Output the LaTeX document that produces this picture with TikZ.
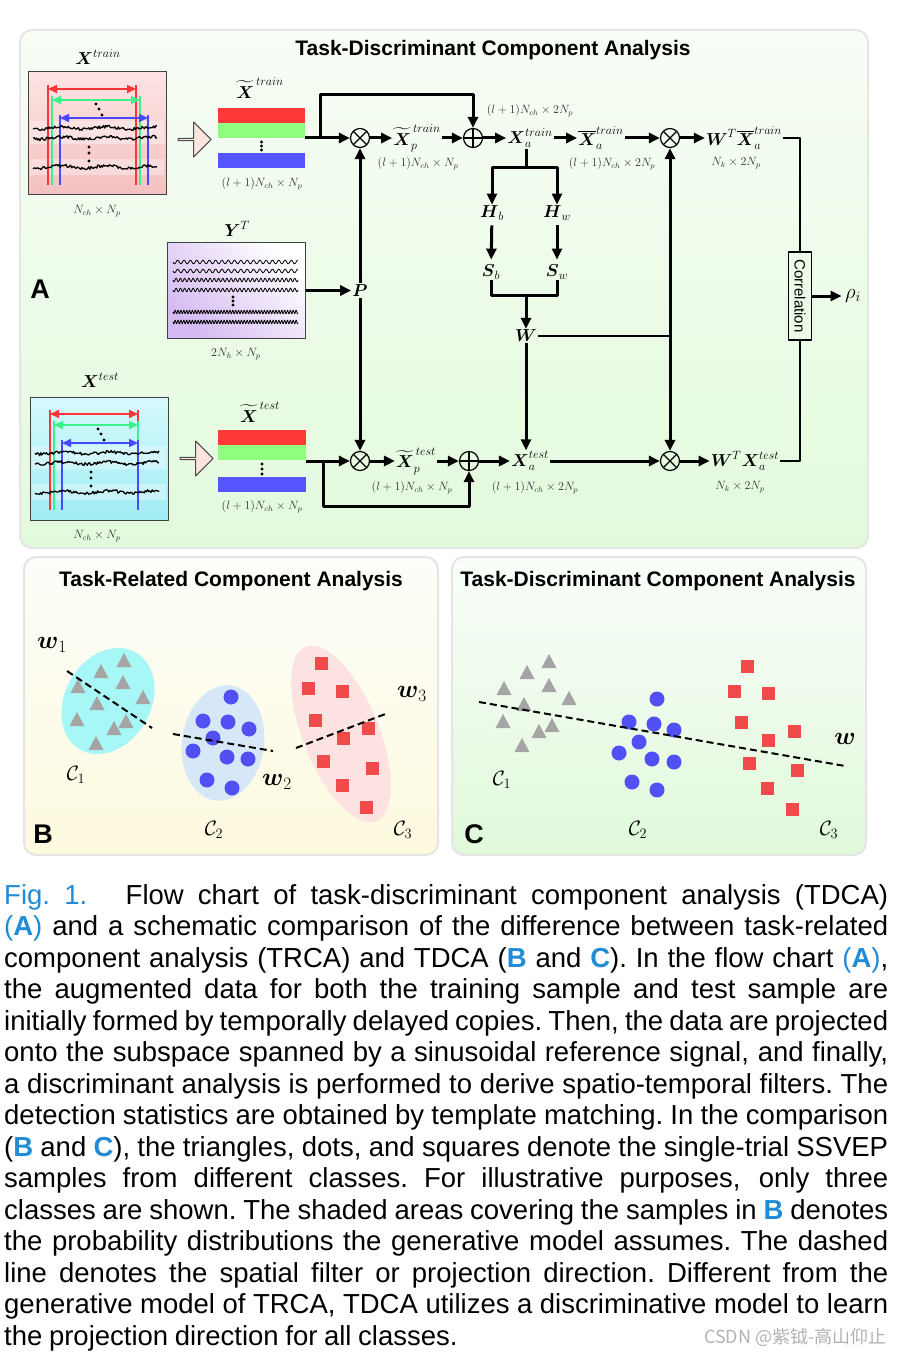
\documentclass[tikz,border=0pt]{standalone}
\usepackage{amsmath}
\usepackage{fontspec}
\newfontfamily\sansf{Liberation Sans}
\newfontfamily\cjkf{Noto Sans CJK SC}
\usetikzlibrary{arrows.meta,positioning,shapes.arrows}
\definecolor{figblue}{RGB}{32,140,215}
\definecolor{sigred}{RGB}{255,52,52}
\definecolor{siggreen}{RGB}{60,240,140}
\definecolor{sigblue}{RGB}{72,72,255}
\definecolor{barred}{RGB}{255,56,56}
\definecolor{bargreen}{RGB}{144,255,128}
\definecolor{barblue}{RGB}{85,85,255}
\definecolor{tri}{RGB}{165,165,165}
\definecolor{dotblue}{RGB}{80,80,245}
\definecolor{sqred}{RGB}{240,74,74}
\definecolor{arrpink}{RGB}{253,228,222}
\definecolor{aTop}{RGB}{248,253,246}
\definecolor{aBot}{RGB}{226,250,220}
\definecolor{bTop}{RGB}{253,253,250}
\definecolor{bBot}{RGB}{253,250,222}
\definecolor{cTop}{RGB}{250,254,250}
\definecolor{cBot}{RGB}{224,248,218}
\definecolor{trTop}{RGB}{253,228,228}
\definecolor{trBot}{RGB}{244,192,192}
\definecolor{teTop}{RGB}{214,250,253}
\definecolor{teBot}{RGB}{160,236,244}
\definecolor{ypurple}{RGB}{212,186,242}
\definecolor{cyanell}{RGB}{168,247,247}
\definecolor{blueell}{RGB}{214,232,248}
\definecolor{pinkell}{RGB}{253,226,226}
\newcommand\capfont{\sansf\fontsize{27.5}{31.5}\selectfont}
\newcommand\capspace{\spaceskip=.24em plus .6em minus .1em\xspaceskip=\spaceskip}
\newcommand\capline[1]{\leavevmode\hbox to 884pt{\capspace #1}}
\newcommand\hl[1]{\textcolor{figblue}{\textbf{#1}}}
\tikzset{
  flow/.style={line width=3pt},
  opn/.style={circle,draw,line width=1.2pt,minimum size=19pt,inner sep=0pt},
  mul/.style={opn,path picture={\draw[line width=1.2pt] (path picture bounding box.north west)--(path picture bounding box.south east) (path picture bounding box.north east)--(path picture bounding box.south west);}},
  add/.style={opn,path picture={\draw[line width=1.2pt] (path picture bounding box.north)--(path picture bounding box.south) (path picture bounding box.east)--(path picture bounding box.west);}},
  lbl/.style={font=\fontsize{17}{20}\selectfont,inner sep=1pt},
  dim/.style={font=\fontsize{11.5}{13}\selectfont,text=black!80,inner sep=0pt},
  ttl/.style={font=\sansf\bfseries\fontsize{21}{24}\selectfont},
  tag/.style={font=\sansf\bfseries\fontsize{27}{30}\selectfont},
  panel/.style={rounded corners=12pt,draw=black!10,line width=2pt},
  sigbox/.style={draw=black!75,line width=1pt,minimum width=138pt,inner sep=0pt},
  sigarr/.style={line width=2pt,arrows={Triangle[length=9pt,width=8pt]-Triangle[length=9pt,width=8pt]}},
  blockarr/.style={single arrow,draw=black!70,line width=1pt,fill=arrpink,minimum height=33pt,minimum width=35pt,single arrow head extend=7.5pt,single arrow head indent=0pt,inner sep=0pt},
  cls/.style={font=\fontsize{22}{24}\selectfont},
  wlbl/.style={font=\fontsize{27}{28}\selectfont},
  proj/.style={line width=2pt,dash pattern=on 7pt off 4pt},
}
\begin{document}
\begin{tikzpicture}[x=1pt,y=-1pt,>={Triangle[length=11pt,width=10pt]},line join=round]
\def\eegsig(#1,#2,#3){%
\begin{scope}[shift={(#1,#2)}]
\fill[white,opacity=.35] (2,49) rectangle (136,72) (2,87) rectangle (136,103);
\draw[sigred,line width=1.6pt] (20,13) -- (20,113) (108,13) -- (108,113);
\draw[siggreen,line width=1.6pt] (24,24) -- (24,113) ({108+4*#3},24) -- ({108+4*#3},113);
\draw[sigblue,line width=1.6pt] (32,43) -- (32,113) ({108+12*#3},43) -- ({108+12*#3},113);
\draw[sigarr,sigred] (20,17) -- (108,17);
\draw[sigarr,siggreen] (24,28) -- ({108+4*#3},28);
\draw[sigarr,sigblue] (32,46) -- ({108+12*#3},46);
\foreach \yy in {56,66,95} \draw[line width=1.3pt] plot[domain=5:129,samples=110] (\x,{\yy+1.5*rand+1.2*sin(8*\x)});
\foreach \p in {(68,32),(71,37),(74,43),(61,75),(61,81),(61,89)} \fill \p circle (1.7);
\end{scope}}
\useasboundingbox (0,0) rectangle (906,1356);
\pgfmathsetseed{11}
\draw[panel,top color=aTop,bottom color=aBot] (20,30) rectangle (868,548);
\draw[panel,top color=bTop,bottom color=bBot] (24,557) rectangle (438,855);
\draw[panel,top color=cTop,bottom color=cBot] (452,557) rectangle (866,855);
\node[ttl] (ta) at (493,50) {Task-Discriminant Component Analysis};
\node[ttl] (tb) at (231,581) {Task-Related Component Analysis};
\node[ttl] (tc) at (658,581) {Task-Discriminant Component Analysis};
\node[tag] (taga) at (40,289) {A};
\node[tag] (tagb) at (43,834) {B};
\node[tag] (tagc) at (474,834) {C};

% raw signals
\node[sigbox,minimum height=123pt,top color=trTop,bottom color=trBot] (eegtr) at (97,133.5) {};
\node[sigbox,minimum height=123pt,top color=teTop,bottom color=teBot] (eegte) at (99,458.5) {};
\eegsig(28,72,1)
\eegsig(30,397,0)
\node[lbl] (lxtr) at (98,57) {$\boldsymbol{X}^{train}$};
\node[dim] (dxtr) at (97,211) {$N_{ch}\times N_p$};
\node[lbl] (lxte) at (100,380) {$\boldsymbol{X}^{test}$};
\node[dim] (dxte) at (97,536) {$N_{ch}\times N_p$};
\node[blockarr] (ba1) at (194,139.5) {};
\node[blockarr] (ba2) at (196,458.5) {};

% augmented data
\node[minimum width=87pt,minimum height=60pt,inner sep=0pt] (btr) at (261.5,138) {};
\fill[barred] (btr.north west) rectangle ++(87,15);
\fill[bargreen] ([yshift=-15pt]btr.north west) rectangle ++(87,15);
\fill[barblue] (btr.south west) rectangle ++(87,-15);
\foreach \d in {4,8,12} \fill ([yshift=-\d pt]btr.center) circle (1.7);
\node[lbl] (lbtr) at (260,88) {$\widetilde{\boldsymbol{X}}^{\,train}$};
\node[dim] (dbtr) at (262,184) {$(l+1)N_{ch}\times N_p$};
\node[minimum width=88pt,minimum height=61pt,inner sep=0pt] (bte) at (262,461) {};
\fill[barred] (bte.north west) rectangle ++(88,15);
\fill[bargreen] ([yshift=-15pt]bte.north west) rectangle ++(88,15);
\fill[barblue] (bte.south west) rectangle ++(88,-15);
\foreach \d in {3,8,13} \fill ([yshift=-\d pt]bte.center) circle (1.7);
\node[lbl] (lbte) at (260,412) {$\widetilde{\boldsymbol{X}}^{\,test}$};
\node[dim] (dbte) at (262,507) {$(l+1)N_{ch}\times N_p$};

% reference signal
\node[sigbox,minimum height=95pt,top color=white,bottom color=ypurple,shading angle=-45] (yb) at (236,290.5) {};
\foreach \yy/\fq in {262/57,271/57,280/85,290/85,312/125,322/125}
  \draw[line width=.8pt] plot[domain=0:125,samples=400] (\x+173,{\yy+1.8*sin(\fq*\x)});
\foreach \yy in {297,301,305} \fill (233,\yy) circle (1.6);
\node[lbl] (ly) at (237,229) {$\boldsymbol{Y}^T$};
\node[dim] (dy) at (236,354) {$2N_h\times N_p$};

% training branch
\node[mul] (m1) at (360,138) {};
\node[lbl] (xp1) at (417,138) {$\widetilde{\boldsymbol{X}}_p^{\,train}$};
\node[add] (a1) at (473,138) {};
\node[lbl] (xa1) at (530,138) {$\boldsymbol{X}_a^{train}$};
\node[lbl] (xb1) at (601,138) {$\overline{\boldsymbol{X}}_a^{train}$};
\node[mul] (m2) at (670,138) {};
\node[lbl] (wx1) at (744,138) {$\boldsymbol{W}^T\overline{\boldsymbol{X}}_a^{train}$};
\node[dim] (dxp1) at (418,164) {$(l+1)N_{ch}\times N_p$};
\node[dim] (dxa1) at (530,111) {$(l+1)N_{ch}\times 2N_p$};
\node[dim] (dxb1) at (612,164) {$(l+1)N_{ch}\times 2N_p$};
\node[dim] (dwx1) at (736,163) {$N_k\times 2N_p$};
\node[lbl] (hb) at (492,213) {$\boldsymbol{H}_b$};
\node[lbl] (hw) at (557,213) {$\boldsymbol{H}_w$};
\node[lbl] (sb) at (491,272) {$\boldsymbol{S}_b$};
\node[lbl] (sw) at (557,272) {$\boldsymbol{S}_w$};
\node[lbl] (wm) at (526,336) {$\boldsymbol{W}$};
\node[lbl] (pm) at (360,290.5) {$\boldsymbol{P}$};

% test branch
\node[mul] (m3) at (360,461) {};
\node[lbl] (xp2) at (416,461) {$\widetilde{\boldsymbol{X}}_p^{\,test}$};
\node[add] (a2) at (469,461) {};
\node[lbl] (xa2) at (530,461) {$\boldsymbol{X}_a^{test}$};
\node[mul] (m4) at (670,461) {};
\node[lbl] (wx2) at (745,461) {$\boldsymbol{W}^T\boldsymbol{X}_a^{test}$};
\node[dim] (dxp2) at (412,488) {$(l+1)N_{ch}\times N_p$};
\node[dim] (dxa2) at (535,488) {$(l+1)N_{ch}\times 2N_p$};
\node[dim] (dwx2) at (740,487) {$N_k\times 2N_p$};

\node[draw,line width=1.5pt,rotate=-90,minimum width=88pt,minimum height=23pt,inner sep=0pt,font=\sansf\fontsize{15}{15}\selectfont] (corr) at (800,296) {Correlation};
\node[font=\fontsize{20}{22}\selectfont] (rho) at (853,296) {$\rho_i$};

\coordinate (jt) at (320,138);
\coordinate (jb) at (323,461);
\coordinate (bt) at (526,168);
\coordinate (bw) at (526,295);
\coordinate (wj) at (670,336);
\draw[flow,->] (btr.east) -- (m1);
\draw[flow,->] (jt) -- ++(0,-43) -| (a1);
\draw[flow,->] (m1) -- (xp1);
\draw[flow,->] (xp1) -- (a1);
\draw[flow,->] (a1) -- (xa1);
\draw[flow,->] (xa1) -- (xb1);
\draw[flow,->] (xb1) -- (m2);
\draw[flow,->] (m2) -- (wx1);
\draw[flow] (bt |- xa1.south) -- (bt);
\draw[flow,->] (bt) -| (hb);
\draw[flow,->] (bt) -| (hw);
\draw[flow,->,shorten <=4pt,shorten >=4pt] (hb) -- (sb);
\draw[flow,->,shorten <=4pt,shorten >=4pt] (hw) -- (sw);
\draw[flow] (sb) |- (bw) -| (sw);
\draw[flow,->] (bw) -- (wm);
\draw[line width=2pt] (wm) -- (wj);
\draw[flow,<->] (m2) -- (m4);
\draw[flow,->] (wm) -- (wm |- xa2.north);
\draw[flow,->] (yb) -- (pm);
\draw[flow,->] (pm) -- (m1);
\draw[flow,->] (pm) -- (m3);
\draw[flow,->] (bte.east) -- (m3);
\draw[flow,->] (jb) -- ++(0,45) -| (a2);
\draw[flow,->] (m3) -- (xp2);
\draw[flow,->] (xp2) -- (a2);
\draw[flow,->] (a2) -- (xa2);
\draw[flow,->] (xa2) -- (m4);
\draw[flow,->] (m4) -- (wx2);
\draw[line width=2pt] (wx1) -| (corr);
\draw[line width=2pt] (wx2) -| (corr);
\draw[flow,->] (corr) -- (rho);

% TRCA
\fill[cyanell,rotate around={-30:(108,701)}] (108,701) ellipse [x radius=43,y radius=56];
\fill[blueell,rotate around={-8:(223,743)}] (223,743) ellipse [x radius=41,y radius=58];
\fill[pinkell,rotate around={22:(341,734)}] (341,734) ellipse [x radius=38,y radius=94];
\foreach \x/\y in {124/661,101/672,78/687,123/683,143/698,97/704,77/720,126/722,114/729,96/744}
  \fill[tri] (\x,\y) ++(-7.5,6) -- ++(15,0) -- ++(-7.5,-14) -- cycle;
\foreach \x/\y in {231/697,203/721,228/722,249/729,213/738,193/751,227/757,248/759,207/780,232/788}
  \fill[dotblue] (\x,\y) circle (7.5);
\foreach \x/\y in {321/663,308/688,342/691,315/720,368/728,343/738,323/761,372/768,342/785,366/807}
  \fill[sqred] (\x-6.5,\y-6.5) rectangle ++(13,13);
\draw[proj] (67,671) -- (152,728);
\draw[proj] (173,734) -- (273,751);
\draw[proj] (296,748) -- (388,713);
\node[wlbl] (w1) at (52,645) {$\boldsymbol{w}_1$};
\node[wlbl] (w2) at (277,782) {$\boldsymbol{w}_2$};
\node[wlbl] (w3) at (412,694) {$\boldsymbol{w}_3$};
\node[cls] (c1) at (76,775) {$\mathcal{C}_1$};
\node[cls] (c2) at (214,830) {$\mathcal{C}_2$};
\node[cls] (c3) at (403,830) {$\mathcal{C}_3$};

% TDCA
\foreach \x/\y in {549/662,527/673,504/689,549/686,569/699,524/705,503/722,552/726,539/732,522/746}
  \fill[tri] (\x,\y) ++(-7.5,6) -- ++(15,0) -- ++(-7.5,-14) -- cycle;
\foreach \x/\y in {657/699,629/722,654/724,674/730,639/742,619/753,652/759,674/762,632/782,657/790}
  \fill[dotblue] (\x,\y) circle (7.5);
\foreach \x/\y in {747/666,734/691,768/693,741/722,794/731,768/740,749/763,797/770,767/788,792/809}
  \fill[sqred] (\x-6.5,\y-6.5) rectangle ++(13,13);
\draw[proj] (479,702) -- (845,766);
\node[wlbl] (w) at (845,739) {$\boldsymbol{w}$};
\node[cls] (k1) at (502,780) {$\mathcal{C}_1$};
\node[cls] (k2) at (638,830) {$\mathcal{C}_2$};
\node[cls] (k3) at (829,830) {$\mathcal{C}_3$};

% caption
\node[anchor=north west,inner sep=0pt,text width=884pt,align=left,font=\capfont] (cap) at (4,884) {%
\capline{\textcolor{figblue}{Fig. 1.}\hspace{1.4em}Flow chart of task-discriminant component analysis (TDCA)}\\
\capline{\textcolor{figblue}{(\textbf{A})} and a schematic comparison of the difference between task-related}\\
\capline{component analysis (TRCA) and TDCA (\hl{B} and \hl{C}). In the flow chart \textcolor{figblue}{(\textbf{A})},}\\
\capline{the augmented data for both the training sample and test sample are}\\
\capline{initially formed by temporally delayed copies. Then, the data are projected}\\
\capline{onto the subspace spanned by a sinusoidal reference signal, and finally,}\\
\capline{a discriminant analysis is performed to derive spatio-temporal filters. The}\\
\capline{detection statistics are obtained by template matching. In the comparison}\\
\capline{(\hl{B} and \hl{C}), the triangles, dots, and squares denote the single-trial SSVEP}\\
\capline{samples from different classes. For illustrative purposes, only three}\\
\capline{classes are shown. The shaded areas covering the samples in \hl{B} denotes}\\
\capline{the probability distributions the generative model assumes. The dashed}\\
\capline{line denotes the spatial filter or projection direction. Different from the}\\
\capline{generative model of TRCA, TDCA utilizes a discriminative model to learn}\\
\leavevmode\hbox{\capspace the projection direction for all classes.}};
\node[anchor=east,font=\cjkf\fontsize{18}{20}\selectfont,text=black!30] (mark) at (890,1337) {CSDN @紫钺-高山仰止};
\end{tikzpicture}
\end{document}
